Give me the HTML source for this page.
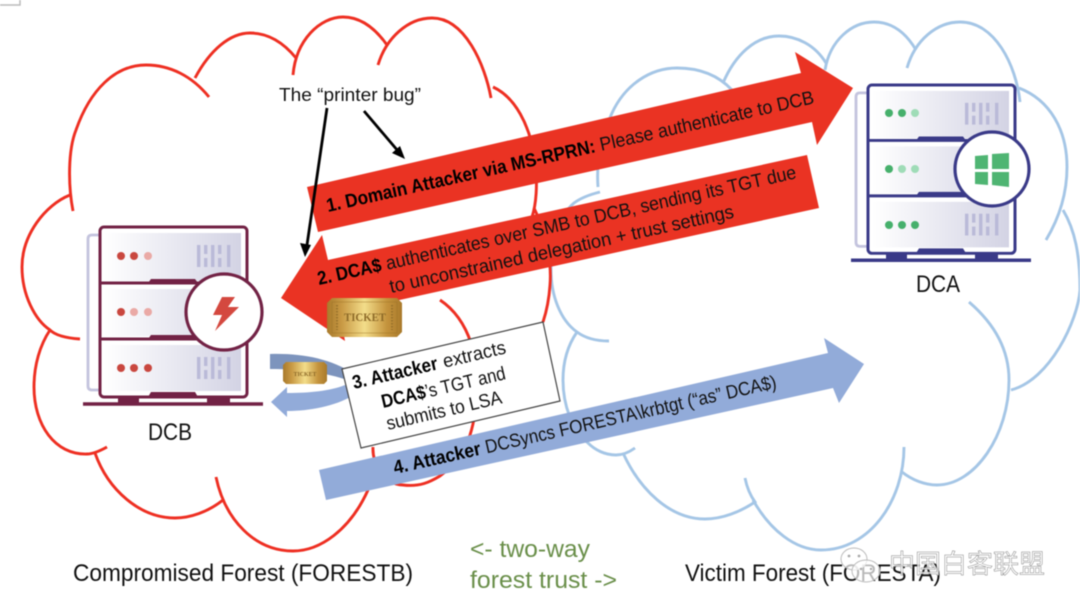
<!DOCTYPE html>
<html><head><meta charset="utf-8">
<style>
html,body{margin:0;padding:0;background:#fff;width:1080px;height:611px;overflow:hidden}
svg{display:block;filter:blur(.65px)}
text{font-family:"Liberation Sans",sans-serif;fill:#111}
.b{font-weight:bold;fill:#000}
.c{fill:none;stroke-width:2.9;stroke-linecap:butt}
</style></head><body>
<svg width="1080" height="611" viewBox="0 0 1080 611" xmlns="http://www.w3.org/2000/svg">
<defs>
<linearGradient id="p" x1="0" x2="1" y1="0" y2="0"><stop offset="0" stop-color="#fff"/><stop offset="1" stop-color="#d3d3e4"/></linearGradient>
<linearGradient id="g" x1="0" x2="1" y1="0" y2="0"><stop offset="0" stop-color="#a97a2b"/><stop offset=".2" stop-color="#c99a45"/><stop offset=".5" stop-color="#f3dd8a"/><stop offset=".8" stop-color="#c4933c"/><stop offset="1" stop-color="#a97a2b"/></linearGradient>
<g id="srv">
<path d="M0 8H-8Q-12 8 -12 12V159Q-12 163 -8 163H0" fill="none" stroke="#c4c4de" stroke-width="2.8"/>
<rect x="4" y="6" width="137" height="48" fill="url(#p)"/>
<rect x="4" y="62" width="137" height="47" fill="url(#p)"/>
<rect x="4" y="118" width="137" height="46" fill="url(#p)"/>
<rect x="0" y="0" width="147" height="170" rx="4" fill="none" stroke="currentColor" stroke-width="3"/>
<path d="M0 56H147M0 112H147" stroke="currentColor" stroke-width="3"/>
<path d="M48 56l3-4h44l3 4zM48 112l3-4h44l3 4zM48 170l3-5h44l3 5z" fill="currentColor"/>
<path d="M-17 177H163" stroke="currentColor" stroke-width="3.6"/>
<rect x="18" y="170" width="21" height="7" fill="currentColor"/>
<rect x="107" y="170" width="23" height="7" fill="currentColor"/>
<g fill="#babad8">
<rect x="97" y="18" width="3.4" height="22"/><rect x="104" y="18" width="3.4" height="9"/><rect x="104" y="31" width="3.4" height="9"/><rect x="111" y="18" width="3.4" height="22"/><rect x="118" y="18" width="3.4" height="9"/><rect x="118" y="31" width="3.4" height="9"/><rect x="127" y="18" width="3.4" height="22"/>
<rect x="97" y="130" width="3.4" height="22"/><rect x="104" y="130" width="3.4" height="9"/><rect x="104" y="143" width="3.4" height="9"/><rect x="111" y="130" width="3.4" height="22"/><rect x="118" y="130" width="3.4" height="9"/><rect x="118" y="143" width="3.4" height="9"/><rect x="127" y="130" width="3.4" height="22"/>
</g>
</g>
</defs>
<rect width="1080" height="611" fill="#fff"/>
<path d="M0 5H20V0" fill="none" stroke="#bbb" stroke-width="1.5"/>

<!-- blue cloud -->
<g stroke="#a5c6e6" fill="none">
<path class="c" d="M598 187C596 160 602 135 612 113C625 85 650 68 677 68C700 68 718 75 732 90"/>
<path class="c" d="M723 83C735 55 755 36 779 36C797 36 815 45 826 63"/>
<path class="c" d="M825 70C830 40 852 22 874 22C892 22 906 33 916 50"/>
<path class="c" d="M907 68C915 40 937 22 960 22C995 22 1016 65 1020 102"/>
<path class="c" d="M1019 88C1050 100 1067 130 1067 167C1067 195 1058 220 1046 240"/>
<path class="c" d="M1063 210C1075 230 1080 255 1080 290C1078 320 1050 380 1011 390"/>
<path class="c" d="M969 302C990 320 1009 345 1009 380C1009 435 975 485 937 485C925 485 912 480 902 472"/>
<path class="c" d="M904 447C904 500 870 550 821 550C795 550 770 530 753 500"/>
<path class="c" d="M745 478C747 488 750 495 755 502C740 512 722 519 705 519C670 519 640 490 623 453"/>
<path class="c" d="M635 448C628 453 622 455 616 455C605 455 595 450 588 443C572 430 563 405 563 380C563 360 568 345 577 332"/>
<path class="c" d="M609 341C595 341 585 338 577 332C560 320 551 295 551 270C551 240 560 215 574 203C582 197 592 194 600 192"/>
</g>

<!-- red cloud -->
<g stroke="#ee2f22" fill="none">
<path class="c" d="M73 211C68 185 68 150 76 130C90 90 115 65 146 65C170 65 192 76 209 97"/>
<path class="c" d="M195 78C210 50 230 33 250 33C268 33 283 42 296 58"/>
<path class="c" d="M293 75C296 40 320 17 343 17C360 17 375 28 387 45"/>
<path class="c" d="M378 65C386 38 408 18 432 18C465 18 485 65 491 98"/>
<path class="c" d="M493 87C515 97 530 125 535 160C538 185 536 205 532 217"/>
<path class="c" d="M534 208C545 230 552 260 550 285C549 300 547 310 543 322"/>
<path class="c" d="M440 300C455 310 465 325 471 343C480 370 478 410 470 435"/>
<path class="c" d="M373 447C372 465 385 485 403 485C420 487 430 482 440 476C455 465 465 450 470 435"/>
<path class="c" d="M368 490C350 530 320 551 293 551C255 551 225 520 216 477"/>
<path class="c" d="M223 500C208 512 190 518 175 518C140 518 108 490 95 453"/>
<path class="c" d="M107 447C98 452 92 454 87 454C55 455 34 425 34 387C34 365 40 345 50 330"/>
<path class="c" d="M80 339C65 338 55 335 50 330C35 320 22 295 22 267C22 235 45 205 70 195"/>
</g>

<!-- DCB server -->
<g transform="translate(100,227)" style="color:#722245"><use href="#srv"/></g>
<g fill="#c9473f"><circle cx="121" cy="256" r="4"/><circle cx="134" cy="256" r="4"/><circle cx="121" cy="312" r="4"/><circle cx="121" cy="368" r="4"/><circle cx="134" cy="368" r="4"/><circle cx="148" cy="368" r="4"/></g>
<g fill="#eaa9a5"><circle cx="148" cy="256" r="4"/><circle cx="134" cy="312" r="4"/><circle cx="148" cy="312" r="4"/></g>
<circle cx="224" cy="312" r="38" fill="#fff" stroke="#722245" stroke-width="3.2"/>
<polygon points="222,297 235,297 228,307 239,307 215,331 222,315 213,315" fill="#d4483f"/>

<!-- DCA server -->
<g transform="translate(868,85) scale(1,.99)" style="color:#3a3a88"><use href="#srv"/></g>
<g fill="#46b06c"><circle cx="889" cy="113" r="4"/><circle cx="902" cy="113" r="4"/><circle cx="889" cy="169" r="4"/><circle cx="889" cy="225" r="4"/><circle cx="902" cy="225" r="4"/><circle cx="915" cy="225" r="4"/></g>
<g fill="#9fdcb7"><circle cx="915" cy="113" r="4"/><circle cx="902" cy="169" r="4"/><circle cx="915" cy="169" r="4"/></g>
<circle cx="992" cy="169" r="37" fill="#fff" stroke="#3a3a88" stroke-width="3.2"/>
<g fill="#4fb573"><polygon points="975,156 988,155 988,169 975,169"/><polygon points="992,154 1009,153 1009,169 992,169"/><polygon points="975,172 988,172 988,185 975,184"/><polygon points="992,172 1009,172 1009,187 992,185"/></g>

<!-- Arrow 1 -->
<polygon points="307,187 801,73 795,52 853,88 817,145 812,122 318,232" fill="#ea3323"/>
<!-- Arrow 2 -->
<polygon points="281,298 322,235 328,260 807,155 819,208 340,313 345,341" fill="#ea3323"/>
<!-- Arrow 4 -->
<polygon points="319,470 828,353 824,338 864,364 839,403 833,388 326,500" fill="#92abd9"/>

<!-- curved blue arrows -->
<path d="M270 354C300 353 330 358 354 374L350 381C325 372 298 369 270 369Z" fill="#7d94bd"/>
<path d="M271 402L287 387V393C310 393 330 391 345 385L352 396C335 406 310 411 287 411V417Z" fill="#92abd9"/>

<!-- box 3 -->
<polygon points="342,369 543,322 560,401 361,448" fill="#fff" stroke="#444" stroke-width="1.2"/>

<!-- tickets -->
<polygon points="332,298 397,298 402,303 402,332 397,337 332,337 327,332 327,303" fill="url(#g)"/>
<rect x="332" y="302" width="65" height="31" fill="none" stroke="#9a7028" stroke-width=".7" opacity=".6"/>
<path d="M337 305V330M392 305V330" stroke="#8d6a28" stroke-width="2" stroke-dasharray="1.5 1.5" opacity=".7"/>
<text x="365" y="321" text-anchor="middle" font-size="11.5" textLength="42" lengthAdjust="spacingAndGlyphs" style="font-family:'Liberation Serif',serif;fill:#8d6a28;font-weight:bold">TICKET</text>
<polygon points="286,362 324,362 327,365 327,381 324,384 286,384 283,381 283,365" fill="url(#g)"/>
<text x="305" y="376" text-anchor="middle" font-size="6.5" textLength="23" lengthAdjust="spacingAndGlyphs" style="font-family:'Liberation Serif',serif;fill:#8d6a28;font-weight:bold">TICKET</text>

<!-- printer arrows -->
<path d="M327 108L307 245" stroke="#000" stroke-width="2.8" fill="none"/>
<polygon points="305,257 300,243 311,245" fill="#000"/>
<path d="M364 111L398 151" stroke="#000" stroke-width="2.8" fill="none"/>
<polygon points="405,159 392,153 400,146" fill="#000"/>
<text x="279" y="101" font-size="18" textLength="142" lengthAdjust="spacingAndGlyphs">The “printer bug”</text>

<!-- Arrow 1 text -->
<g transform="translate(328,212) rotate(-12.6)" font-size="19">
<text class="b" x="0" y="0" textLength="275" lengthAdjust="spacingAndGlyphs">1. Domain Attacker via MS-RPRN:</text>
<text x="280" y="0" textLength="219" lengthAdjust="spacingAndGlyphs">Please authenticate to DCB</text>
</g>
<!-- Arrow 2 text -->
<g transform="translate(319,285) rotate(-12.6)" font-size="19">
<text class="b" x="0" y="0" textLength="65" lengthAdjust="spacingAndGlyphs">2. DCA$</text>
<text x="70" y="0" textLength="420" lengthAdjust="spacingAndGlyphs">authenticates over SMB to DCB, sending its TGT due</text>
</g>
<g transform="translate(391,293) rotate(-12.4)" font-size="19">
<text x="0" y="0" textLength="352" lengthAdjust="spacingAndGlyphs">to unconstrained delegation + trust settings</text>
</g>
<!-- Box text -->
<g transform="translate(354,389) rotate(-13.2)" font-size="19">
<text class="b" x="0" y="0" textLength="87" lengthAdjust="spacingAndGlyphs">3. Attacker</text>
<text x="93" y="0" textLength="64" lengthAdjust="spacingAndGlyphs">extracts</text>
</g>
<g transform="translate(383,408) rotate(-13.2)" font-size="19">
<text class="b" x="0" y="0" textLength="45" lengthAdjust="spacingAndGlyphs">DCA$</text>
<text x="45" y="0" textLength="82" lengthAdjust="spacingAndGlyphs">’s TGT and</text>
</g>
<g transform="translate(388,430) rotate(-13.2)" font-size="19">
<text x="0" y="0" textLength="118" lengthAdjust="spacingAndGlyphs">submits to LSA</text>
</g>
<!-- Arrow 4 text -->
<g transform="translate(395,474) rotate(-12.7)" font-size="19">
<text class="b" x="0" y="0" textLength="89" lengthAdjust="spacingAndGlyphs">4. Attacker</text>
<text x="94" y="0" textLength="298" lengthAdjust="spacingAndGlyphs">DCSyncs FORESTA\krbtgt (“as” DCA$)</text>
</g>

<text x="148" y="440" font-size="24" textLength="44" lengthAdjust="spacingAndGlyphs">DCB</text>
<text x="916" y="292" font-size="24" textLength="44" lengthAdjust="spacingAndGlyphs">DCA</text>
<text x="73" y="581" font-size="24" textLength="340" lengthAdjust="spacingAndGlyphs">Compromised Forest (FORESTB)</text>
<text x="685" y="581" font-size="24" textLength="256" lengthAdjust="spacingAndGlyphs">Victim Forest (FORESTA)</text>
<text x="470" y="557" font-size="24" textLength="120" lengthAdjust="spacingAndGlyphs" style="fill:#6a8f4a">&lt;- two-way</text>
<text x="470" y="588" font-size="24" textLength="147" lengthAdjust="spacingAndGlyphs" style="fill:#6a8f4a">forest trust -&gt;</text>

<!-- watermark -->
<g fill="#fff" fill-opacity=".7" stroke="#bbb" stroke-width="1">
<ellipse cx="854" cy="559" rx="13" ry="11"/>
<ellipse cx="866" cy="571" rx="14" ry="11"/>
</g>
<g fill="#aaa"><circle cx="849" cy="556" r="1.4"/><circle cx="859" cy="556" r="1.4"/><circle cx="861" cy="569" r="1.2"/><circle cx="871" cy="569" r="1.2"/></g>
<text x="889" y="573" font-size="26" textLength="156" style='font-family:"Liberation Sans","Noto Sans CJK SC",sans-serif;fill:#fff;fill-opacity:.8;stroke:#888;stroke-width:.5'>中国白客联盟</text>
</svg>
</body></html>
